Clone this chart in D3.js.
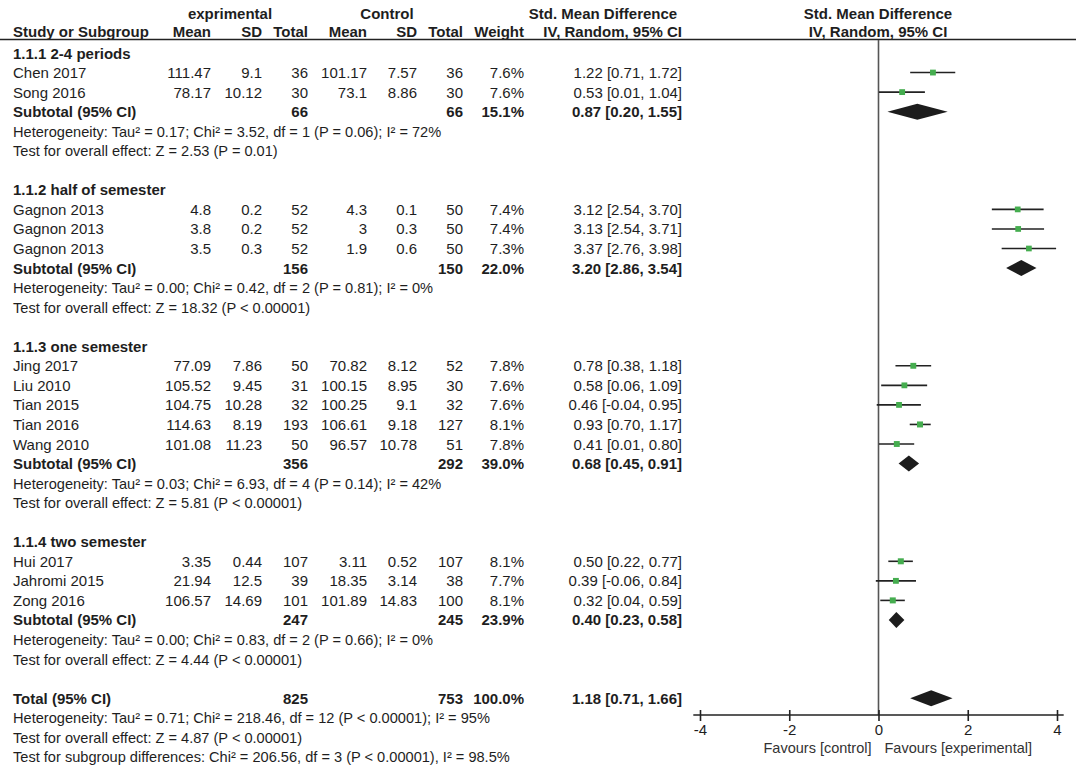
<!DOCTYPE html>
<html>
<head>
<meta charset="utf-8">
<script src="https://cdn.jsdelivr.net/npm/d3@7"></script>
<style>
  body { margin: 0; background: #fff; }
  text { font-family: "Liberation Sans", Arial, sans-serif; fill: #1e1e1e; }
</style>
</head>
<body>
<div id="forest"></div>
<script>
// --- Data ---
const groupLabels = ["1.1.1 2-4 periods", "1.1.2 half of semester", "1.1.3 one semester", "1.1.4 two semester"];
const studyNames = ["Chen 2017", "Song 2016", "Gagnon 2013", "Gagnon 2013", "Gagnon 2013", "Jing 2017", "Liu 2010",
                    "Tian 2015", "Tian 2016", "Wang 2010", "Hui 2017", "Jahromi 2015", "Zong 2016"];
const studyGroup = [0, 0, 1, 1, 1, 2, 2, 2, 2, 2, 3, 3, 3];
const expMean  = [111.47, 78.17, 4.8, 3.8, 3.5, 77.09, 105.52, 104.75, 114.63, 101.08, 3.35, 21.94, 106.57];
const expSD    = [9.1, 10.12, 0.2, 0.2, 0.3, 7.86, 9.45, 10.28, 8.19, 11.23, 0.44, 12.5, 14.69];
const expTotal = [36, 30, 52, 52, 52, 50, 31, 32, 193, 50, 107, 39, 101];
const ctlMean  = [101.17, 73.1, 4.3, 3, 1.9, 70.82, 100.15, 100.25, 106.61, 96.57, 3.11, 18.35, 101.89];
const ctlSD    = [7.57, 8.86, 0.1, 0.3, 0.6, 8.12, 8.95, 9.1, 9.18, 10.78, 0.52, 3.14, 14.83];
const ctlTotal = [36, 30, 50, 50, 50, 52, 30, 32, 127, 51, 107, 38, 100];
const weights  = [7.6, 7.6, 7.4, 7.4, 7.3, 7.8, 7.6, 7.6, 8.1, 7.8, 8.1, 7.7, 8.1];
const smd      = [1.22, 0.53, 3.12, 3.13, 3.37, 0.78, 0.58, 0.46, 0.93, 0.41, 0.50, 0.39, 0.32];
const ciLow    = [0.71, 0.01, 2.54, 2.54, 2.76, 0.38, 0.06, -0.04, 0.70, 0.01, 0.22, -0.06, 0.04];
const ciHigh   = [1.72, 1.04, 3.70, 3.71, 3.98, 1.18, 1.09, 0.95, 1.17, 0.80, 0.77, 0.84, 0.59];

// subgroup summaries
const subExpTotal = [66, 156, 356, 247];
const subCtlTotal = [66, 150, 292, 245];
const subWeight   = [15.1, 22.0, 39.0, 23.9];
const subSmd      = [0.87, 3.20, 0.68, 0.40];
const subLow      = [0.20, 2.86, 0.45, 0.23];
const subHigh     = [1.55, 3.54, 0.91, 0.58];
const hetText = [
  "Heterogeneity: Tau² = 0.17; Chi² = 3.52, df = 1 (P = 0.06); I² = 72%",
  "Heterogeneity: Tau² = 0.00; Chi² = 0.42, df = 2 (P = 0.81); I² = 0%",
  "Heterogeneity: Tau² = 0.03; Chi² = 6.93, df = 4 (P = 0.14); I² = 42%",
  "Heterogeneity: Tau² = 0.00; Chi² = 0.83, df = 2 (P = 0.66); I² = 0%"
];
const effectText = [
  "Test for overall effect: Z = 2.53 (P = 0.01)",
  "Test for overall effect: Z = 18.32 (P < 0.00001)",
  "Test for overall effect: Z = 5.81 (P < 0.00001)",
  "Test for overall effect: Z = 4.44 (P < 0.00001)"
];

// overall
const totalExp = 825, totalCtl = 753, totalWeight = 100.0;
const totalSmd = 1.18, totalLow = 0.71, totalHigh = 1.66;
const totalNotes = [
  "Heterogeneity: Tau² = 0.71; Chi² = 218.46, df = 12 (P < 0.00001); I² = 95%",
  "Test for overall effect: Z = 4.87 (P < 0.00001)",
  "Test for subgroup differences: Chi² = 206.56, df = 3 (P < 0.00001), I² = 98.5%"
];
const axisTicks = [-4, -2, 0, 2, 4];

// --- Size ---
const width = 1076, height = 765;
const svg = d3.select("#forest").append("svg")
  .attr("width", width)
  .attr("height", height);

// --- Build rows ---
const rows = [];
groupLabels.forEach((g, gi) => {
  rows.push({ type: "group", label: g });
  studyNames.forEach((n, i) => {
    if (studyGroup[i] === gi) rows.push({ type: "study", i });
  });
  rows.push({ type: "sub", gi });
  rows.push({ type: "note", label: hetText[gi] });
  rows.push({ type: "note", label: effectText[gi] });
  rows.push({ type: "blank" });
});
rows.push({ type: "total" });
totalNotes.forEach(t => rows.push({ type: "note", label: t }));

// row index -> baseline y
const yRow = d3.scaleLinear().domain([0, 1]).range([58.5, 78.05]);
// effect size scale
const x = d3.scaleLinear().domain([-4, 4]).range([700, 1057]);

// column right edges
const col = { expMean: 211, expSD: 262, expN: 308, ctlMean: 367, ctlSD: 417, ctlN: 463, w: 524, ci: 682 };
// plain hyphen for negatives, like the original
const loc = d3.formatLocale({ decimal: ".", thousands: ",", grouping: [3], currency: ["", ""], minus: "-" });
const fmt2 = loc.format(".2f");
const ciText = (m, l, h) => `${fmt2(m)} [${fmt2(l)}, ${fmt2(h)}]`;

function txt(xp, yp, s, anchor, bold, size) {
  return svg.append("text")
    .attr("x", xp).attr("y", yp)
    .attr("text-anchor", anchor || "start")
    .style("font-size", (size || 15) + "px")
    .style("font-weight", bold ? "bold" : "normal")
    .text(s);
}

// --- Header ---
txt(230, 18.5, "exprimental", "middle", true);
txt(387, 18.5, "Control", "middle", true);
txt(603, 18.5, "Std. Mean Difference", "middle", true);
txt(878, 18.5, "Std. Mean Difference", "middle", true);
txt(13, 37, "Study or Subgroup", "start", true);
txt(col.expMean, 37, "Mean", "end", true);
txt(col.expSD, 37, "SD", "end", true);
txt(col.expN, 37, "Total", "end", true);
txt(col.ctlMean, 37, "Mean", "end", true);
txt(col.ctlSD, 37, "SD", "end", true);
txt(col.ctlN, 37, "Total", "end", true);
txt(col.w, 37, "Weight", "end", true);
txt(col.ci, 37, "IV, Random, 95% CI", "end", true);
txt(878, 37, "IV, Random, 95% CI", "middle", true);

svg.append("line")
  .attr("x1", 0).attr("x2", width)
  .attr("y1", 39.5).attr("y2", 39.5)
  .attr("stroke", "#222").attr("stroke-width", 1.6);

// --- Zero line ---
const axisY = 715;
svg.append("line")
  .attr("x1", x(0)).attr("x2", x(0))
  .attr("y1", 40).attr("y2", axisY)
  .attr("stroke", "#555").attr("stroke-width", 1.6);

// --- Table + marks ---
const sq = d3.scaleSqrt().domain([0, 8.1]).range([0, 6]);

function diamond(m, l, h, yc) {
  const hh = 8;
  svg.append("path")
    .attr("d", `M${x(l)},${yc} L${x(m)},${yc - hh} L${x(h)},${yc} L${x(m)},${yc + hh} Z`)
    .attr("fill", "#1c1c1c");
}

rows.forEach((r, k) => {
  const yb = yRow(k);
  const yc = yb - 5.5;
  if (r.type === "group") {
    txt(13, yb, r.label, "start", true);
  } else if (r.type === "study") {
    const i = r.i;
    txt(13, yb, studyNames[i]);
    txt(col.expMean, yb, expMean[i], "end");
    txt(col.expSD, yb, expSD[i], "end");
    txt(col.expN, yb, expTotal[i], "end");
    txt(col.ctlMean, yb, ctlMean[i], "end");
    txt(col.ctlSD, yb, ctlSD[i], "end");
    txt(col.ctlN, yb, ctlTotal[i], "end");
    txt(col.w, yb, weights[i].toFixed(1) + "%", "end");
    txt(col.ci, yb, ciText(smd[i], ciLow[i], ciHigh[i]), "end");
    svg.append("line")
      .attr("x1", x(ciLow[i])).attr("x2", x(ciHigh[i]))
      .attr("y1", yc).attr("y2", yc)
      .attr("stroke", "#222").attr("stroke-width", 1.6);
    const s = sq(weights[i]);
    svg.append("rect")
      .attr("x", x(smd[i]) - s / 2).attr("y", yc - s / 2)
      .attr("width", s).attr("height", s)
      .attr("fill", "#45ad4f");
  } else if (r.type === "sub") {
    const gi = r.gi;
    txt(13, yb, "Subtotal (95% CI)", "start", true);
    txt(col.expN, yb, subExpTotal[gi], "end", true);
    txt(col.ctlN, yb, subCtlTotal[gi], "end", true);
    txt(col.w, yb, subWeight[gi].toFixed(1) + "%", "end", true);
    txt(col.ci, yb, ciText(subSmd[gi], subLow[gi], subHigh[gi]), "end", true);
    diamond(subSmd[gi], subLow[gi], subHigh[gi], yc);
  } else if (r.type === "total") {
    txt(13, yb, "Total (95% CI)", "start", true);
    txt(col.expN, yb, totalExp, "end", true);
    txt(col.ctlN, yb, totalCtl, "end", true);
    txt(col.w, yb, totalWeight.toFixed(1) + "%", "end", true);
    txt(col.ci, yb, ciText(totalSmd, totalLow, totalHigh), "end", true);
    diamond(totalSmd, totalLow, totalHigh, yc);
  } else if (r.type === "note") {
    txt(13, yb, r.label, "start", false, 14.6);
  }
});

// --- Axis ---
const axisG = svg.append("g")
  .attr("transform", `translate(0,${axisY})`)
  .call(d3.axisBottom(x).tickValues(axisTicks).tickFormat(loc.format("d")).tickSizeOuter(0));
axisG.select(".domain")
  .attr("d", `M${x(-4.15)},0H${x(4.15)}`)
  .attr("stroke", "#222").attr("stroke-width", 1.6);
axisG.selectAll(".tick line")
  .attr("y1", -5).attr("y2", 6)
  .attr("stroke", "#222").attr("stroke-width", 1.6);
axisG.selectAll(".tick text")
  .attr("y", 9)
  .style("font-size", "15px")
  .style("font-family", "'Liberation Sans', Arial, sans-serif")
  .attr("fill", "#1e1e1e");

txt(x(0) - 7, 753, "Favours [control]", "end", false, 14.5).style("fill", "#333");
txt(x(0) + 6, 753, "Favours [experimental]", "start", false, 14.5).style("fill", "#333");
</script>
</body>
</html>
